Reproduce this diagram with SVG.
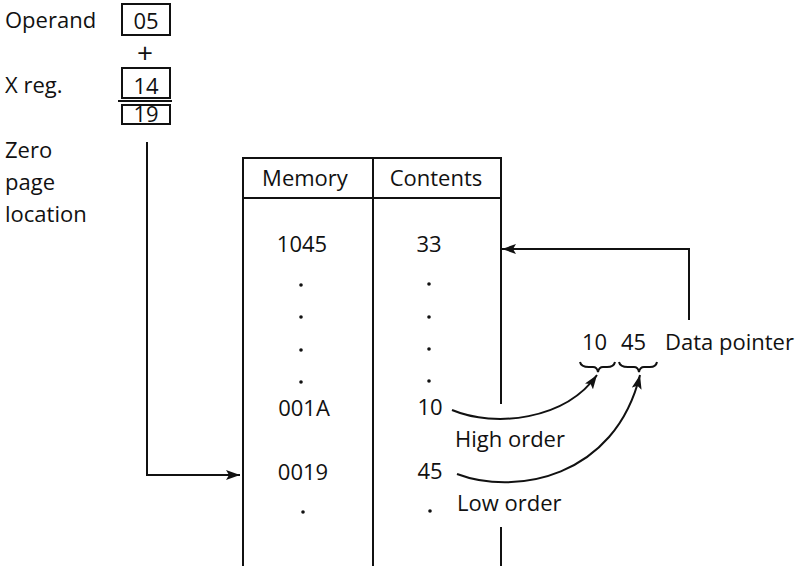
<svg xmlns="http://www.w3.org/2000/svg" width="800" height="566" viewBox="0 0 800 566">
<style>
text{font-family:"Open Sans","Liberation Sans",sans-serif;font-size:22px;fill:#111}
.c{text-anchor:middle}
.ln{stroke:#111;stroke-width:2;fill:none}
.dot{fill:#111}
</style>
<defs>
<marker id="ah" viewBox="0 0 14 10" refX="14" refY="5" markerWidth="14" markerHeight="10" markerUnits="userSpaceOnUse" orient="auto">
<path d="M0,0 L14,5 L0,10 L3,5 Z" fill="#111"/>
</marker>
</defs>
<rect width="800" height="566" fill="#fff"/>

<g id="labels">
<text x="5" y="28">Operand</text>
<text x="5" y="93">X reg.</text>
<text x="5" y="158">Zero</text>
<text x="5" y="190">page</text>
<text x="5" y="222">location</text>
</g>

<g id="operand">
<rect class="ln" x="122" y="4" width="48" height="31"/>
<text class="c" x="146" y="29">05</text>
</g>
<g id="plus"><text class="c" x="145" y="63" style="font-size:28px">+</text></g>
<g id="xreg">
<rect class="ln" x="122" y="68" width="48" height="30"/>
<text class="c" x="146" y="94">14</text>
<line class="ln" x1="118" y1="101" x2="172" y2="101"/>
</g>
<g id="sum">
<rect class="ln" x="122" y="105" width="48" height="19"/>
<text class="c" x="146" y="122">19</text>
</g>

<g id="table">
<line class="ln" x1="242" y1="158" x2="501" y2="158"/>
<line class="ln" x1="242" y1="198" x2="501" y2="198"/>
<line class="ln" x1="243" y1="157" x2="243" y2="566"/>
<line class="ln" x1="373" y1="157" x2="373" y2="566"/>
<line class="ln" x1="501" y1="157" x2="501" y2="404"/>
<line class="ln" x1="501" y1="527" x2="501" y2="566"/>
<text class="c" x="305" y="186">Memory</text>
<text class="c" x="436" y="186">Contents</text>
<text class="c" x="302" y="252">1045</text>
<text class="c" x="429" y="252">33</text>
<circle class="dot" cx="301" cy="285" r="1.8"/>
<circle class="dot" cx="301" cy="317" r="1.8"/>
<circle class="dot" cx="301" cy="350" r="1.8"/>
<circle class="dot" cx="301" cy="382" r="1.8"/>
<circle class="dot" cx="429" cy="284" r="1.8"/>
<circle class="dot" cx="429" cy="317" r="1.8"/>
<circle class="dot" cx="429" cy="349" r="1.8"/>
<circle class="dot" cx="429" cy="381" r="1.8"/>
<text class="c" x="304" y="416">001A</text>
<text class="c" x="430" y="415">10</text>
<text x="455" y="447">High order</text>
<text class="c" x="303" y="480">0019</text>
<text class="c" x="430" y="479">45</text>
<circle class="dot" cx="303" cy="512" r="1.8"/>
<circle class="dot" cx="430" cy="511" r="1.8"/>
<text x="457" y="511">Low order</text>
</g>

<g id="pointer">
<text x="582" y="350">10</text>
<text x="621" y="350">45</text>
<text x="665" y="350">Data pointer</text>
<path class="ln" stroke-width="1.8" d="M580,362 Q581,367 589,367 L593,367 Q597,367 598,372 Q599,367 603,367 L607,367 Q614,367 615,362"/>
<path class="ln" stroke-width="1.8" d="M619,362 Q620,367 628,367 L634,367 Q638,367 639,372 Q640,367 644,367 L650,367 Q656,367 657,362"/>
</g>

<g id="connectors">
<polyline class="ln" points="147,142 147,475 240,475" marker-end="url(#ah)"/>
<polyline class="ln" points="689,320 689,249 502,249" marker-end="url(#ah)"/>
<path class="ln" d="M452,410 C495,428 565,420 597,375" marker-end="url(#ah)"/>
<path class="ln" d="M457,474 C515,496 615,478 640,375" marker-end="url(#ah)"/>
</g>
</svg>
